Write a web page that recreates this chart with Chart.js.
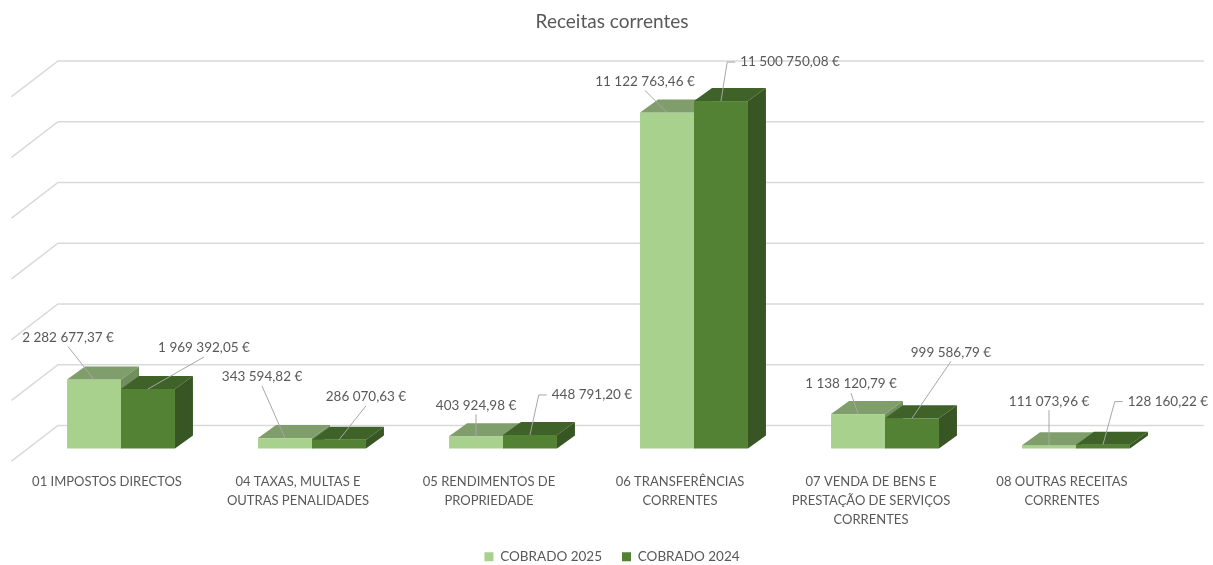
<!DOCTYPE html>
<html>
<head>
<meta charset="utf-8">
<script src="https://cdn.jsdelivr.net/npm/chart.js@4.4.1/dist/chart.umd.min.js"></script>
<style>
  html, body { margin: 0; padding: 0; background: #fff; }
</style>
</head>
<body>
<canvas id="chart" width="1213" height="565"></canvas>
<script>
// data
const categories = [
  ['01 IMPOSTOS DIRECTOS'],
  ['04 TAXAS, MULTAS E', 'OUTRAS PENALIDADES'],
  ['05 RENDIMENTOS DE', 'PROPRIEDADE'],
  ['06 TRANSFERÊNCIAS', 'CORRENTES'],
  ['07 VENDA DE BENS E', 'PRESTAÇÃO DE SERVIÇOS', 'CORRENTES'],
  ['08 OUTRAS RECEITAS', 'CORRENTES']
];
const cobrado2025 = [2282677.37, 343594.82, 403924.98, 11122763.46, 1138120.79, 111073.96];
const cobrado2024 = [1969392.05, 286070.63, 448791.20, 11500750.08, 999586.79, 128160.22];
const seriesNames = ['COBRADO 2025', 'COBRADO 2024'];
const yMax = 12000000;
const yStep = 2000000;

// where Excel put each data label, relative to the bar's front top centre
const labelPos2025 = [[-26, -42], [-23, -61], [0, -31], [-22, -31], [-7, -30], [0, -44]];
const labelPos2024 = [[56, -41], [27, -43], [62, -40], [69, -39], [39, -66], [65, -43]];
const leader2024 = ['bottom', 'bottom', 'left', 'left', 'bottom', 'left'];

// colours of the 3d faces
const faces = [
  { front: '#A9D18E', top: '#7F9E6B', side: '#718F5E' },
  { front: '#548235', top: '#3F6229', side: '#375623' }
];
const textColor = '#595959';
const gridColor = '#D9D9D9';
const FONT = 'Lato, "Open Sans", sans-serif';

// depth of a bar and of the floor
const barDx = 18, barDy = -13;
const wallDx = 32.5, wallDy = -23;
const floorDx = -46.5, floorDy = 35.7;

function euro(v) {
  const parts = v.toFixed(2).split('.');
  const int = parts[0].replace(/\B(?=(\d{3})+(?!\d))/g, ' ');
  return int + ',' + parts[1] + ' €';
}

const bars3d = {
  id: 'bars3d',
  beforeDatasetsDraw(chart) {
    const ctx = chart.ctx;
    const y = chart.scales.y;
    const area = chart.chartArea;

    // back wall + floor gridlines
    ctx.save();
    ctx.strokeStyle = gridColor;
    ctx.lineWidth = 1.5;
    for (let v = 0; v <= yMax; v += yStep) {
      const yf = y.getPixelForValue(v);
      const yb = yf + wallDy - 2 * (v / yMax);
      const xl = area.left + wallDx;
      const xr = area.right + wallDx;
      ctx.beginPath();
      ctx.moveTo(xl + floorDx, yb + floorDy);
      ctx.lineTo(xl, yb);
      ctx.lineTo(xr, yb);
      ctx.stroke();
    }
    ctx.restore();

    // bars, category by category so the faces overlap right
    const metas = [chart.getDatasetMeta(0), chart.getDatasetMeta(1)];
    for (let i = 0; i < categories.length; i++) {
      metas.forEach((meta, d) => {
        const el = meta.data[i];
        const w = el.width;
        const l = el.x - w / 2, r = el.x + w / 2;
        const t = el.y, b = el.base;
        const f = faces[d];
        ctx.fillStyle = f.front;
        ctx.fillRect(l, t, w, b - t);
        ctx.fillStyle = f.top;
        ctx.beginPath();
        ctx.moveTo(l, t);
        ctx.lineTo(l + barDx, t + barDy);
        ctx.lineTo(r + barDx, t + barDy);
        ctx.lineTo(r, t);
        ctx.closePath();
        ctx.fill();
        ctx.fillStyle = f.side;
        ctx.beginPath();
        ctx.moveTo(r, t);
        ctx.lineTo(r + barDx, t + barDy);
        ctx.lineTo(r + barDx, b + barDy);
        ctx.lineTo(r, b);
        ctx.closePath();
        ctx.fill();
      });
    }
    return false;
  },
  afterDraw(chart) {
    const ctx = chart.ctx;
    ctx.save();
    ctx.font = '13.5px ' + FONT;
    ctx.textAlign = 'center';
    ctx.textBaseline = 'middle';
    [0, 1].forEach(d => {
      const meta = chart.getDatasetMeta(d);
      const vals = d === 0 ? cobrado2025 : cobrado2024;
      const pos = d === 0 ? labelPos2025 : labelPos2024;
      meta.data.forEach((el, i) => {
        const bx = el.x, by = el.y;
        const lx = bx + pos[i][0], ly = by + pos[i][1];
        const txt = euro(vals[i]);
        const half = ctx.measureText(txt).width / 2;
        ctx.strokeStyle = '#A6A6A6';
        ctx.lineWidth = 1;
        ctx.beginPath();
        if (d === 1 && leader2024[i] === 'left') {
          ctx.moveTo(lx - half - 5, ly);
          ctx.lineTo(lx - half - 13, ly);
        } else {
          ctx.moveTo(lx, ly + 9);
        }
        ctx.lineTo(bx, by);
        ctx.stroke();
        ctx.fillStyle = textColor;
        ctx.fillText(txt, lx, ly);
      });
    });
    ctx.restore();
  }
};

// empty side axes, only there to hold the plot in place
const blankAxis = {
  display: true,
  grid: { display: false },
  border: { display: false },
  ticks: { display: false }
};

new Chart(document.getElementById('chart'), {
  type: 'bar',
  data: {
    labels: categories,
    datasets: [
      { label: seriesNames[0], data: cobrado2025, backgroundColor: faces[0].front, borderWidth: 0 },
      { label: seriesNames[1], data: cobrado2024, backgroundColor: faces[1].front, borderWidth: 0 }
    ]
  },
  options: {
    responsive: false,
    animation: false,
    devicePixelRatio: 1,
    layout: { padding: { left: 11, right: 0, top: 0, bottom: -8.5 } },
    datasets: { bar: { categoryPercentage: 0.565, barPercentage: 1 } },
    scales: {
      x: {
        grid: { display: false },
        border: { display: false },
        ticks: {
          color: textColor,
          font: { family: FONT, size: 13, lineHeight: 19 / 13 },
          padding: 16,
          labelOffset: -14,
          maxRotation: 0,
          autoSkip: false
        },
        afterFit(scale) { scale.height = 81.5; }
      },
      y: {
        ...blankAxis,
        position: 'left',
        min: 0,
        max: yMax,
        afterFit(scale) { scale.width = 14.5; }
      },
      y2: {
        ...blankAxis,
        position: 'right',
        min: 0,
        max: yMax,
        afterFit(scale) { scale.width = 41.5; }
      }
    },
    plugins: {
      title: {
        display: true,
        text: 'Receitas correntes',
        color: textColor,
        font: { family: FONT, size: 19, weight: 'normal' },
        padding: { top: 10.6, bottom: 52.6 }
      },
      legend: {
        position: 'bottom',
        labels: {
          color: textColor,
          font: { family: FONT, size: 13.5 },
          boxWidth: 9,
          boxHeight: 9,
          padding: 20
        }
      },
      tooltip: { enabled: false }
    }
  },
  plugins: [bars3d]
});
</script>
</body>
</html>
